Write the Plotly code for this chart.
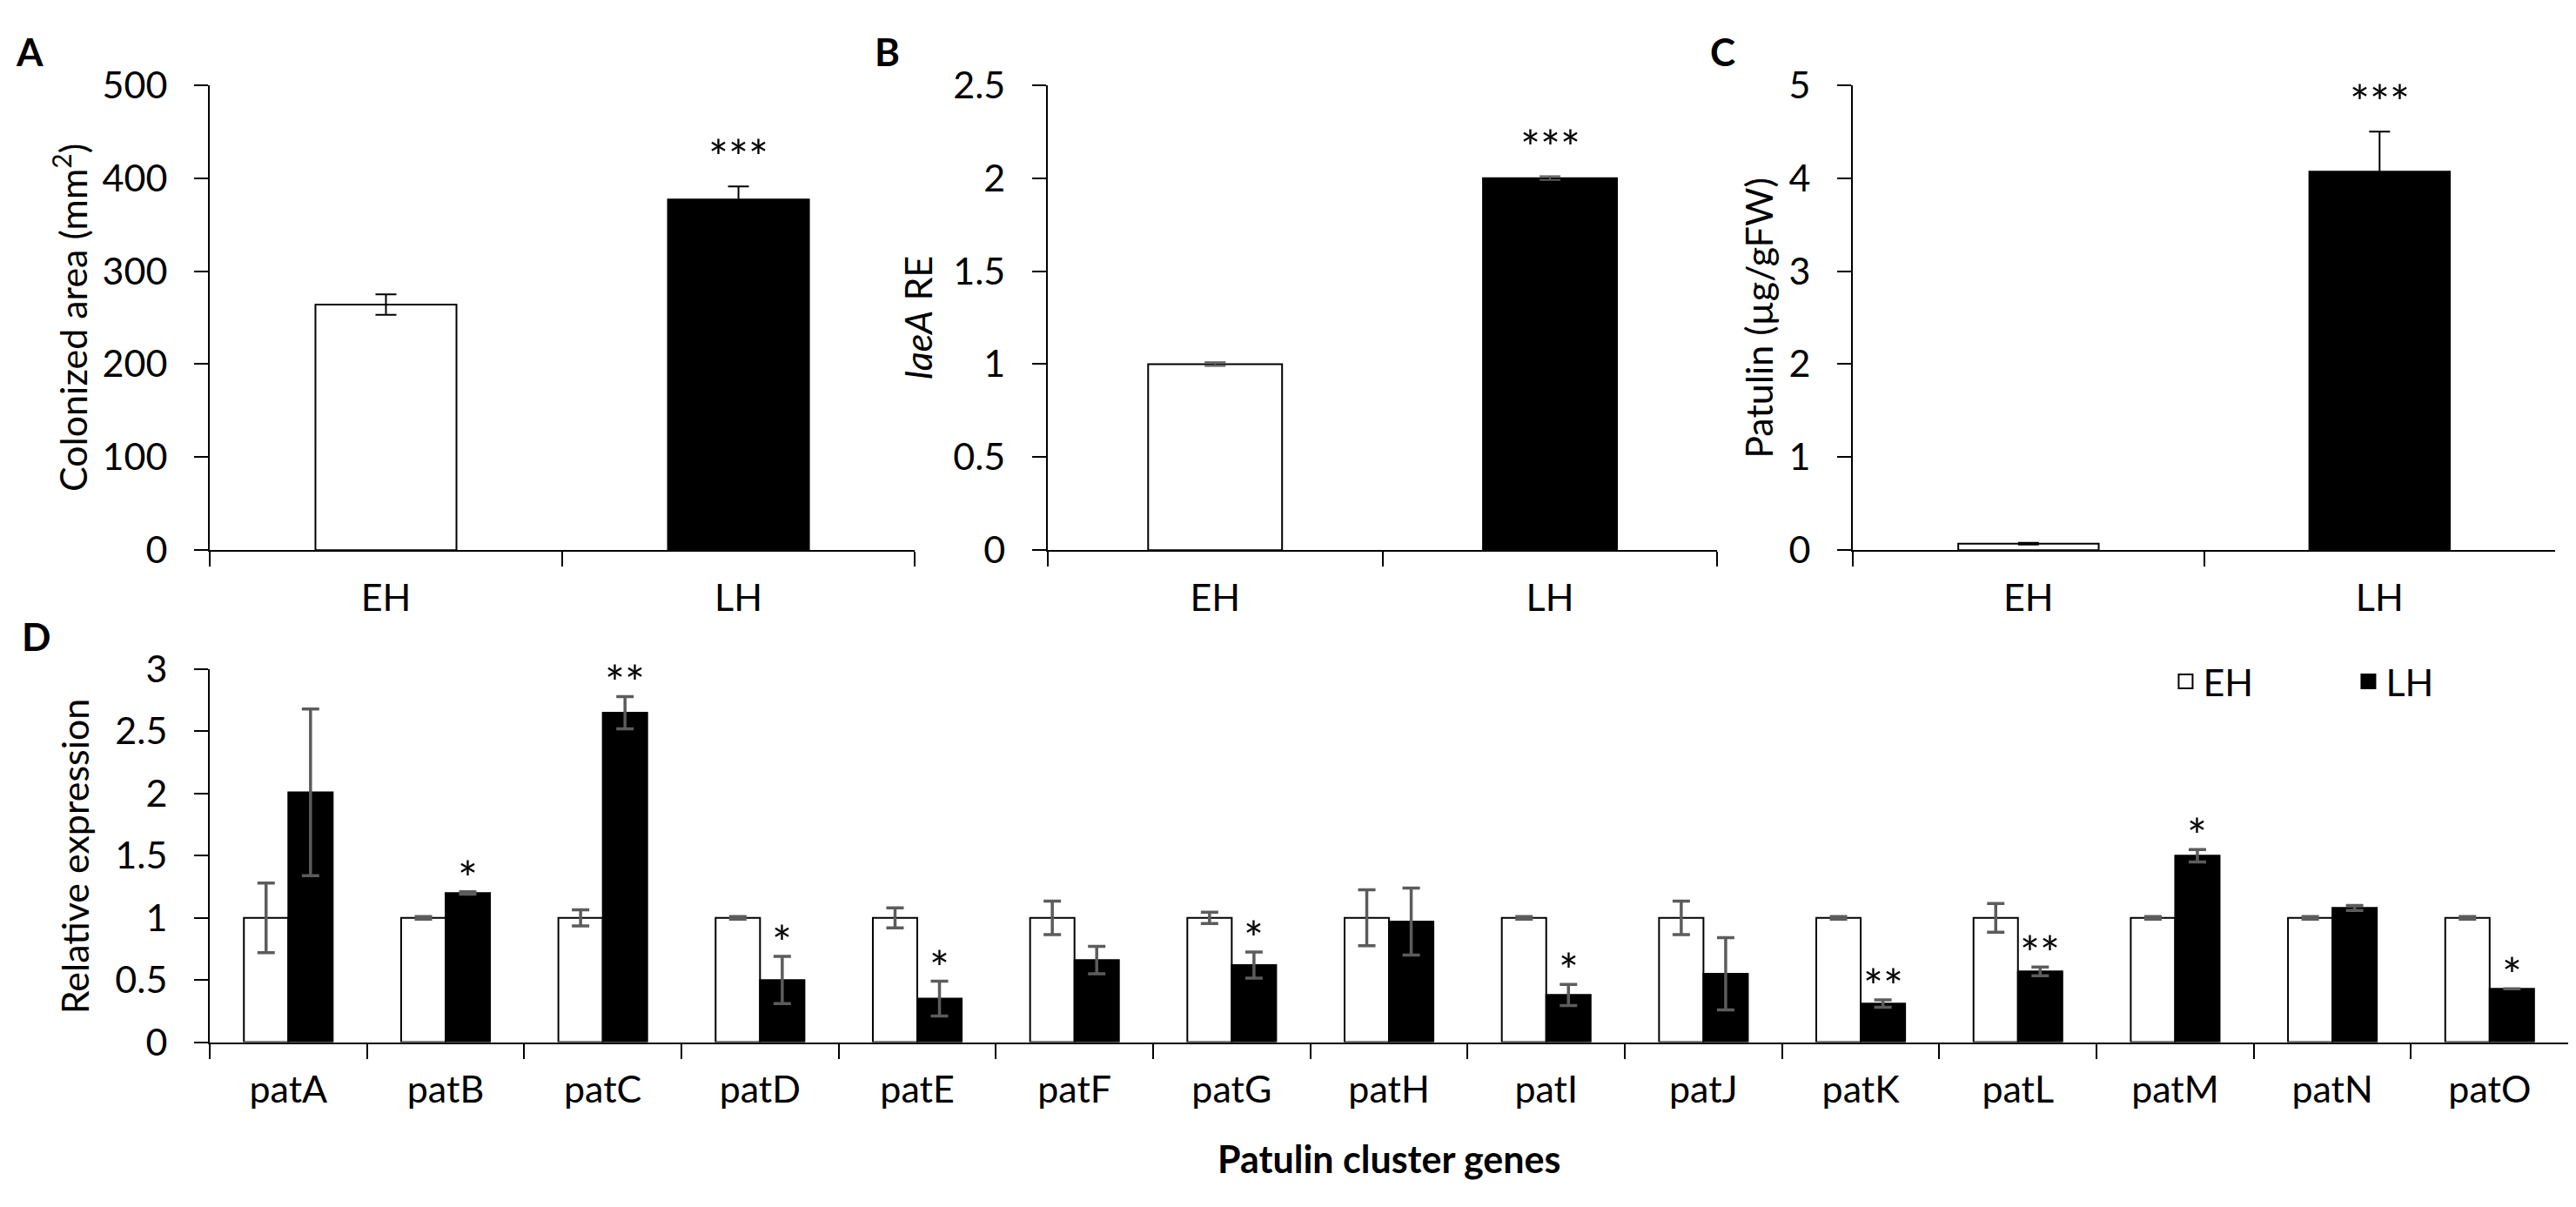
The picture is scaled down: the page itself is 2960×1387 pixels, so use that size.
import plotly.graph_objects as go

# panels A-C: two harvest stages
stages = ["EH", "LH"]
area = [264, 377]
area_err = [11, 14]
laea = [1.0, 2.0]
laea_err = [0.01, 0.01]
patulin = [0.07, 4.07]
patulin_err = [0.01, 0.43]

# panel D: patulin cluster genes
genes = ["patA", "patB", "patC", "patD", "patE", "patF", "patG", "patH",
         "patI", "patJ", "patK", "patL", "patM", "patN", "patO"]
eh_expr = [1, 1, 1, 1, 1, 1, 1, 1, 1, 1, 1, 1, 1, 1, 1]
eh_err = [0.28, 0.01, 0.065, 0.01, 0.08, 0.135, 0.045, 0.225, 0.01, 0.135,
          0.01, 0.115, 0.01, 0.01, 0.01]
lh_expr = [2.01, 1.20, 2.65, 0.50, 0.35, 0.66, 0.62, 0.97, 0.38, 0.55,
           0.31, 0.57, 1.50, 1.08, 0.43]
lh_err = [0.67, 0.01, 0.13, 0.19, 0.14, 0.11, 0.105, 0.27, 0.085, 0.29,
          0.03, 0.035, 0.05, 0.02, 0.0]
sig = ["", "*", "**", "*", "*", "", "*", "", "*", "", "**", "**", "*", "", "*"]

FONT = "Lato, Open Sans, sans-serif"
SIZE = 43
STAR = 54
BLACK = "black"
GREY = "#5c5c5c"

fig = go.Figure()

top_panels = [
    # xaxis, yaxis, values, errors, range, dtick, title, title x (paper), errbar colour
    ("x", "y", area, area_err, [0, 500], 100, "Colonized area (mm<sup>2</sup>)", 0.0247, BLACK),
    ("x2", "y2", laea, laea_err, [0, 2.5], 0.5, "<i>laeA</i> RE", 0.3537, GREY),
    ("x3", "y3", patulin, patulin_err, [0, 5], 1, "Patulin (µg/gFW)", 0.680, BLACK),
]
for xa, ya, vals, errs, rng, dt, title, tx, ecol in top_panels:
    fig.add_trace(go.Bar(
        x=stages, y=vals, xaxis=xa, yaxis=ya, width=0.4, showlegend=False,
        marker=dict(color=["white", "black"], line=dict(color=BLACK, width=2)),
        error_y=dict(type="data", array=errs, color=ecol, thickness=2, width=12),
    ))
    fig.add_annotation(x="LH", y=vals[1] + errs[1], xref=xa, yref=ya,
                       text="***", showarrow=False, yanchor="bottom", yshift=0,
                       font=dict(size=STAR, family=FONT, color=BLACK))
    fig.add_annotation(x=tx, y=0.5, xref="paper", yref=ya + " domain", text=title,
                       textangle=-90, showarrow=False, xanchor="center", yanchor="middle",
                       font=dict(size=SIZE, family=FONT, color=BLACK))

fig.add_trace(go.Bar(
    x=genes, y=eh_expr, name="EH", xaxis="x4", yaxis="y4", showlegend=False,
    marker=dict(color="white", line=dict(color=BLACK, width=2)),
    error_y=dict(type="data", array=eh_err, color=GREY, thickness=3.5, width=10),
))
fig.add_trace(go.Bar(
    x=genes, y=lh_expr, name="LH", xaxis="x4", yaxis="y4", showlegend=False,
    marker=dict(color="black", line=dict(color=BLACK, width=2)),
    error_y=dict(type="data", array=lh_err, color=GREY, thickness=3.5, width=10),
))
# legend entries with larger square keys than the bar legend symbol
for name, col in [("EH", "white"), ("LH", "black")]:
    fig.add_trace(go.Scatter(
        x=[None], y=[None], name=name, mode="markers", xaxis="x4", yaxis="y4",
        marker=dict(symbol="square", size=16, color=col, line=dict(color=BLACK, width=2)),
    ))

for i, s in enumerate(sig):
    if s:
        fig.add_annotation(x=i + 0.141, y=lh_expr[i] + lh_err[i], xref="x4", yref="y4",
                           text=s, showarrow=False, yanchor="bottom", yshift=-18,
                           font=dict(size=STAR, family=FONT, color=BLACK))

fig.add_annotation(x=0.026, y=0.5, xref="paper", yref="y4 domain", text="Relative expression",
                   textangle=-90, showarrow=False, xanchor="center", yanchor="middle",
                   font=dict(size=SIZE, family=FONT, color=BLACK))
fig.add_annotation(x=0.5, y=0.0296, xref="x4 domain", yref="paper",
                   text="<b>Patulin cluster genes</b>", showarrow=False,
                   xanchor="center", yanchor="middle",
                   font=dict(size=SIZE, family=FONT, color=BLACK))

axis_common = dict(showline=True, linecolor=BLACK, linewidth=2, showgrid=False,
                   zeroline=False, ticks="outside", tickcolor=BLACK, tickwidth=2,
                   tickfont=dict(size=SIZE, family=FONT, color=BLACK))

xdoms = [[0.0787, 0.3524], [0.404, 0.664], [0.7166, 0.9892]]
for n, (dom, panel) in enumerate(zip(xdoms, top_panels), start=1):
    sfx = "" if n == 1 else str(n)
    fig.layout["xaxis" + sfx] = dict(axis_common, domain=dom, anchor="y" + sfx,
                                     tickson="boundaries", ticklen=17, ticklabelstandoff=16)
    fig.layout["yaxis" + sfx] = dict(axis_common, domain=[0.553, 0.953], anchor="x" + sfx,
                                     range=panel[4], dtick=panel[5], ticklen=16,
                                     ticklabelstandoff=22)

fig.layout["xaxis4"] = dict(axis_common, domain=[0.0787, 0.9943], anchor="y4",
                            tickson="boundaries", ticklen=17, ticklabelstandoff=16)
fig.layout["yaxis4"] = dict(axis_common, domain=[0.1298, 0.4506], anchor="x4",
                            range=[0, 3], dtick=0.5, ticklen=16, ticklabelstandoff=22)

for letter, lx, ly in [("A", 0.0027, 0.982), ("B", 0.336, 0.982),
                       ("C", 0.6605, 0.982), ("D", 0.005, 0.479)]:
    fig.add_annotation(x=lx, y=ly, xref="paper", yref="paper", text="<b>" + letter + "</b>",
                       showarrow=False, xanchor="left", yanchor="middle",
                       font=dict(size=44, family=FONT, color=BLACK))

fig.update_layout(
    width=2960, height=1387,
    margin=dict(l=0, r=0, t=0, b=0),
    paper_bgcolor="white", plot_bgcolor="white",
    barmode="group", bargap=0.435, bargroupgap=0,
    legend=dict(orientation="h", x=0.839, y=0.44, xanchor="left", yanchor="middle",
                font=dict(size=SIZE, family=FONT, color=BLACK),
                entrywidth=165, bgcolor="rgba(0,0,0,0)"),
)

fig.write_html("out.html")
